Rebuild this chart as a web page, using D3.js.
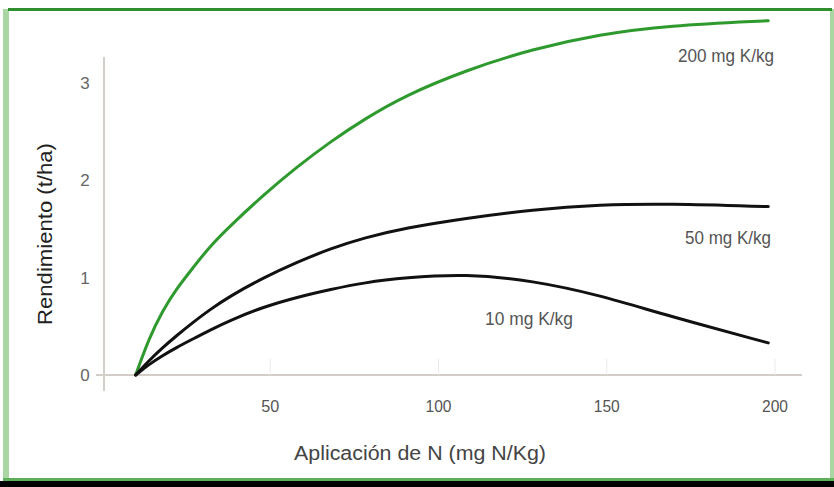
<!DOCTYPE html>
<html>
<head>
<meta charset="utf-8">
<script src="https://cdn.jsdelivr.net/npm/d3@7"></script>
<style>
  body { margin: 0; background: #fff; }
  svg { display: block; }
  text { font-family: "Liberation Sans", Arial, sans-serif; }
</style>
</head>
<body>
<div id="chart"></div>
<script>
// Aplicación de N (mg N/Kg)
const nValues = [10, 14, 18, 22, 27, 32, 38, 48, 58, 68, 78, 90, 108, 128, 148, 168, 198];
const k200 = [0, 0.38, 0.66, 0.88, 1.10, 1.32, 1.53, 1.85, 2.14, 2.40, 2.63, 2.87, 3.13, 3.35, 3.50, 3.59, 3.64];
const k50  = [0, 0.15, 0.28, 0.40, 0.54, 0.67, 0.81, 1.00, 1.16, 1.30, 1.41, 1.51, 1.61, 1.70, 1.75, 1.76, 1.73];
const k10  = [0, 0.11, 0.20, 0.28, 0.37, 0.46, 0.56, 0.70, 0.80, 0.88, 0.95, 1.00, 1.04, 0.97, 0.82, 0.61, 0.33];
const seriesNames = ['200 mg K/kg', '50 mg K/kg', '10 mg K/kg'];
const xTicks = [50, 100, 150, 200];
const yTicks = [0, 1, 2, 3];

const width = 834, height = 487;
const svg = d3.select('#chart').append('svg')
    .attr('width', width)
    .attr('height', height);

// frame
svg.append('rect').attr('x', 3).attr('y', 9).attr('width', 6).attr('height', 472).attr('fill', '#a9d6a2');
svg.append('rect').attr('x', 830).attr('y', 9).attr('width', 4).attr('height', 472).attr('fill', '#a9d6a2');
svg.append('rect').attr('x', 8).attr('y', 8).attr('width', 824).attr('height', 3).attr('fill', '#2f8f2f');
svg.append('rect').attr('x', 3).attr('y', 478).attr('width', 831).attr('height', 3).attr('fill', '#5fae5a');
svg.append('rect').attr('x', 0).attr('y', 481).attr('width', 834).attr('height', 6).attr('fill', '#000');

const x = d3.scaleLinear().domain([0, 200]).range([102, 775]);
const y = d3.scaleLinear().domain([0, 3]).range([375, 83]);

// axes lines
svg.append('line').attr('x1', 104).attr('x2', 104).attr('y1', 57).attr('y2', 391)
    .attr('stroke', '#d3cec8').attr('stroke-width', 2);
svg.append('line').attr('x1', 96).attr('x2', 802).attr('y1', y(0)).attr('y2', y(0))
    .attr('stroke', '#d3cec8').attr('stroke-width', 2);

// faint tick marks above x axis
svg.append('g').selectAll('line').data(xTicks).enter().append('line')
    .attr('x1', d => x(d)).attr('x2', d => x(d))
    .attr('y1', y(0) - 16).attr('y2', y(0))
    .attr('stroke', '#eeeae6').attr('stroke-width', 1);

// tick labels (condensed like the original)
svg.append('g').selectAll('text').data(xTicks).enter().append('text')
    .attr('x', d => x(d) - (d < 100 ? 9 : 13)).attr('y', 412)
    .attr('font-size', 17).attr('fill', '#555')
    .attr('textLength', d => d < 100 ? 18 : 26)
    .attr('lengthAdjust', 'spacingAndGlyphs')
    .text(d => d);

svg.append('g').selectAll('text').data(yTicks).enter().append('text')
    .attr('x', 85).attr('y', d => y(d) + 6)
    .attr('text-anchor', 'middle')
    .attr('font-size', 17).attr('fill', '#666')
    .text(d => d);

// axis titles
svg.append('text')
    .attr('x', 294).attr('y', 460)
    .attr('font-size', 20).attr('fill', '#444')
    .attr('textLength', 252)
    .attr('lengthAdjust', 'spacingAndGlyphs')
    .text('Aplicación de N (mg N/Kg)');

svg.append('text')
    .attr('transform', 'translate(52,325) rotate(-90)')
    .attr('font-size', 20).attr('fill', '#222')
    .attr('textLength', 182)
    .attr('lengthAdjust', 'spacingAndGlyphs')
    .text('Rendimiento  (t/ha)');

// curves
const line = d3.line()
    .x(d => x(d[0]))
    .y(d => y(d[1]))
    .curve(d3.curveBasis);

const series = [
    { name: seriesNames[0], values: k200, color: '#2e9a2e', lx: 678, ly: 62, len: 96 },
    { name: seriesNames[1], values: k50, color: '#111', lx: 685, ly: 244, len: 86 },
    { name: seriesNames[2], values: k10, color: '#111', lx: 485, ly: 325, len: 88 }
];

series.forEach(s => {
    svg.append('path')
        .datum(nValues.map((n, i) => [n, s.values[i]]))
        .attr('d', line)
        .attr('fill', 'none')
        .attr('stroke', s.color)
        .attr('stroke-width', 3)
        .attr('stroke-linecap', 'round');

    svg.append('text')
        .attr('x', s.lx).attr('y', s.ly)
        .attr('font-size', 18).attr('fill', '#555')
        .attr('textLength', s.len)
        .attr('lengthAdjust', 'spacingAndGlyphs')
        .text(s.name);
});
</script>
</body>
</html>
